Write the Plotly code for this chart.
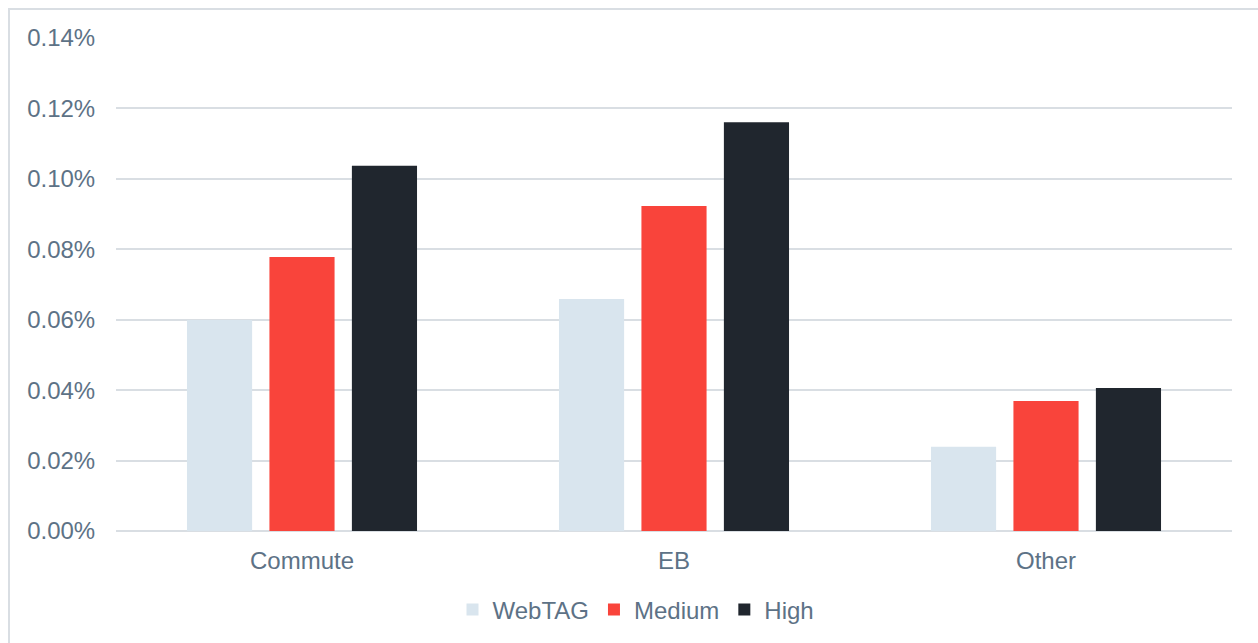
import plotly.graph_objects as go

categories = ["Commute", "EB", "Other"]
webtag = [0.000599, 0.000659, 0.000239]
medium = [0.000778, 0.000923, 0.000369]
high = [0.001037, 0.001161, 0.000406]

series_names = ["WebTAG", "Medium", "High"]
colors = ["#D9E5EE", "#F9443B", "#20262E"]

W, H = 1258, 643
L, R, T, B = 116, 26, 38, 112
pw, ph = W - L - R, H - T - B

fig = go.Figure()
for name, vals, c in zip(series_names, [webtag, medium, high], colors):
    fig.add_trace(go.Bar(x=categories, y=vals, name=name, marker_color=c,
                         marker_line_width=0))

text_color = "#5D7286"
grid = "#D9DEE3"

fig.update_layout(
    width=W, height=H,
    margin=dict(l=L, r=R, t=T, b=B, autoexpand=False),
    plot_bgcolor="white", paper_bgcolor="white",
    barmode="group", bargap=0.335, bargroupgap=0.21,
    font=dict(family="Liberation Sans, Arial, sans-serif", size=24, color=text_color),
    legend=dict(orientation="h", x=(636 - L) / pw, xanchor="center",
                y=(T + ph - 610) / ph, yanchor="middle",
                font=dict(size=24, color=text_color), itemwidth=30,
                traceorder="normal"),
    showlegend=True,
)
fig.update_yaxes(range=[0, 0.0014], dtick=0.0002, tickformat=".2%",
                 showgrid=True, gridcolor=grid, gridwidth=2,
                 zeroline=True, zerolinecolor=grid, zerolinewidth=2,
                 showline=False, ticks="outside", ticklen=15, tickcolor="rgba(0,0,0,0)")
fig.update_xaxes(showgrid=False, showline=False, ticks="outside", ticklen=8,
                 tickcolor="rgba(0,0,0,0)")

# outer frame
fig.add_shape(type="rect", xref="paper", yref="paper",
              x0=(9 - L) / pw, x1=(W + 20 - L) / pw,
              y0=(T + ph - (H + 20)) / ph, y1=(T + ph - 9) / ph,
              line=dict(color=grid, width=2), fillcolor="rgba(0,0,0,0)", layer="below")

fig.write_html("out.html")
